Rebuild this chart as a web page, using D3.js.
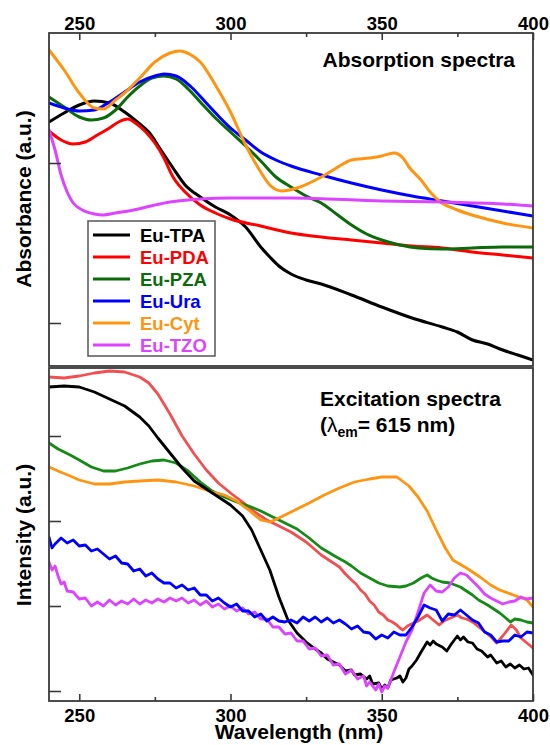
<!DOCTYPE html>
<html><head><meta charset="utf-8">
<title>Absorption and excitation spectra</title>
<script src="https://d3js.org/d3.v7.min.js"></script>
<style>
  body { margin: 0; background: #fff; }
  text { font-family: Arial, "Liberation Sans", Helvetica, sans-serif; font-weight: bold; }
  .curve { fill: none; stroke-linejoin: round; stroke-linecap: round; }
</style>
</head>
<body>
<div id="chart"></div>
<script>
// wavelength ticks (nm)
var majorTicks = [250, 300, 350, 400];
var minorTicks = [275, 325, 375];
var absTicks = [0.42, 2.02];            // unlabelled y ticks, absorption (a.u.)
var excTicks = [0.10, 0.95, 1.80, 2.65]; // unlabelled y ticks, excitation (a.u.)

var names = ["Eu-TPA", "Eu-PDA", "Eu-PZA", "Eu-Ura", "Eu-Cyt", "Eu-TZO"];
var absColors = ["#000000", "#ff0000", "#0b6b0b", "#0000ff", "#ff9410", "#dd44ff"];
var excColors = ["#000000", "#f25050", "#168a16", "#0000ff", "#ff9410", "#dd44ff"];

// absorption spectra [wavelength nm, absorbance a.u.]
var absTPA = [[240,2.43],[245,2.52],[250,2.60],[255,2.64],[260,2.62],[265,2.53],[270,2.41],[273,2.33],[277,2.15],[281,1.97],[285,1.80],[290,1.68],[295,1.58],[300,1.50],[305,1.38],[310,1.18],[313,1.08],[316,0.99],[320,0.91],[325,0.85],[330,0.81],[340,0.70],[350,0.58],[360,0.47],[370,0.38],[375,0.33],[380,0.25],[385,0.21],[390,0.15],[395,0.10],[400,0.05]];
var absPDA = [[240,2.34],[244,2.25],[248,2.21],[252,2.23],[256,2.30],[260,2.37],[263,2.43],[266,2.46],[269,2.41],[272,2.33],[275,2.22],[278,2.07],[281,1.88],[285,1.73],[290,1.60],[295,1.52],[300,1.46],[310,1.39],[320,1.32],[330,1.28],[340,1.25],[350,1.22],[360,1.19],[370,1.17],[380,1.13],[390,1.10],[400,1.07]];
var absPZA = [[240,2.68],[245,2.58],[250,2.48],[254,2.45],[258,2.47],[262,2.55],[266,2.68],[270,2.79],[274,2.87],[278,2.89],[282,2.86],[286,2.76],[290,2.63],[295,2.47],[300,2.33],[305,2.19],[310,2.04],[315,1.88],[320,1.78],[325,1.69],[330,1.62],[335,1.51],[340,1.40],[345,1.31],[350,1.25],[356,1.20],[362,1.17],[370,1.16],[380,1.17],[390,1.18],[400,1.18]];
var absUra = [[240,2.62],[245,2.57],[250,2.54],[255,2.55],[260,2.63],[265,2.73],[270,2.83],[275,2.89],[278,2.91],[282,2.89],[287,2.78],[292,2.62],[296,2.49],[300,2.37],[305,2.25],[310,2.13],[315,2.05],[320,1.99],[330,1.90],[340,1.82],[350,1.75],[360,1.69],[370,1.64],[380,1.59],[390,1.54],[400,1.49]];
var absCyt = [[240,3.15],[245,2.95],[250,2.72],[255,2.57],[258,2.56],[262,2.65],[265,2.72],[270,2.87],[275,3.03],[280,3.12],[283,3.14],[287,3.10],[290,3.03],[295,2.80],[300,2.53],[305,2.20],[310,1.93],[313,1.80],[317,1.74],[322,1.77],[330,1.88],[335,1.97],[340,2.05],[346,2.07],[350,2.09],[354,2.12],[357,2.07],[359,1.98],[363,1.85],[366,1.73],[369,1.64],[375,1.55],[381,1.49],[390,1.42],[400,1.37]];
var absTZO = [[240,2.35],[242,2.15],[244,1.90],[246,1.73],[248,1.62],[251,1.55],[255,1.51],[258,1.50],[262,1.52],[268,1.55],[275,1.60],[280,1.63],[290,1.66],[300,1.67],[320,1.67],[350,1.64],[370,1.63],[390,1.61],[400,1.59]];

// excitation spectra (lambda_em = 615 nm) [wavelength nm, intensity a.u.]
var excTPA = [[240,3.14],[245,3.15],[250,3.14],[255,3.09],[260,3.02],[265,2.95],[270,2.84],[273,2.75],[276,2.63],[280,2.48],[284,2.33],[288,2.20],[292,2.12],[296,2.04],[300,1.96],[304,1.85],[307,1.71],[310,1.51],[313,1.31],[316,1.04],[319,0.81],[322,0.68],[325,0.59],[328,0.52],[330,0.48],[332,0.42],[334,0.39],[336,0.36],[338,0.30],[340,0.31],[341,0.26],[343,0.27],[345,0.22],[346,0.25],[347,0.17],[349,0.18],[350,0.12],[351,0.16],[352,0.13],[353,0.21],[355,0.23],[356,0.25],[357,0.19],[358,0.23],[359,0.32],[360,0.35],[361.5,0.41],[363,0.49],[365,0.59],[366,0.56],[367,0.60],[368,0.57],[370,0.54],[371.5,0.50],[373,0.57],[375,0.65],[376,0.61],[377,0.64],[378.5,0.59],[380,0.58],[381.5,0.52],[383,0.50],[385,0.44],[386,0.46],[388,0.38],[389.5,0.40],[391,0.34],[392.5,0.37],[394,0.33],[395.5,0.36],[397,0.32],[398.5,0.33],[400,0.26]];
var excPDA = [[240,3.24],[245,3.23],[250,3.25],[255,3.28],[260,3.30],[265,3.29],[270,3.24],[273,3.18],[276,3.07],[280,2.87],[284,2.65],[288,2.47],[292,2.31],[296,2.18],[300,2.08],[304,1.99],[308,1.89],[312,1.81],[316,1.75],[320,1.69],[325,1.59],[330,1.46],[333,1.40],[336,1.34],[338,1.27],[340,1.21],[341.5,1.17],[343,1.11],[344.5,1.07],[346,1.00],[347.5,0.96],[349,0.89],[350.5,0.86],[352,0.81],[353.5,0.79],[355,0.76],[356,0.73],[357,0.71],[358.5,0.75],[360.5,0.78],[362,0.80],[363,0.82],[365,0.86],[367,0.81],[369,0.76],[370.5,0.80],[372,0.82],[375,0.86],[376.5,0.83],[378,0.82],[380,0.79],[382.5,0.73],[385,0.67],[386.5,0.63],[388,0.58],[390,0.65],[392.8,0.76],[394.5,0.71],[396,0.63],[398,0.58],[400,0.53]];
var excPZA = [[240,2.58],[243,2.52],[247,2.46],[250,2.41],[254,2.34],[258,2.30],[262,2.30],[266,2.33],[270,2.37],[274,2.40],[278,2.41],[282,2.38],[286,2.30],[290,2.19],[294,2.10],[298,2.04],[302,1.99],[306,1.95],[310,1.90],[314,1.84],[318,1.78],[322,1.72],[326,1.63],[330,1.53],[335,1.44],[338,1.39],[340,1.35],[343,1.28],[346,1.23],[349,1.18],[352,1.15],[356,1.14],[358,1.15],[360.5,1.18],[363,1.23],[365,1.26],[366.5,1.23],[368,1.21],[370,1.19],[372.5,1.18],[376,1.14],[378,1.10],[380,1.06],[382,1.01],[385,0.96],[387,0.92],[389,0.88],[391,0.83],[392.5,0.79],[394,0.82],[396,0.81],[398,0.79],[400,0.78]];
var excUra = [[240,1.64],[241,1.53],[242,1.57],[244,1.63],[246,1.58],[248,1.61],[250,1.55],[252,1.56],[254,1.50],[256,1.52],[258,1.47],[260,1.42],[262,1.45],[264,1.38],[266,1.37],[268,1.30],[270,1.32],[272,1.25],[274,1.28],[276,1.22],[278,1.18],[280,1.18],[282,1.13],[284,1.16],[286,1.11],[288,1.13],[290,1.06],[292,1.06],[294,1.00],[296,1.03],[298,0.98],[300,0.94],[302,0.97],[304,0.90],[306,0.90],[308,0.84],[310,0.87],[312,0.80],[314,0.84],[316,0.80],[318,0.79],[320,0.81],[322,0.78],[324,0.84],[326,0.80],[328,0.84],[330,0.79],[332,0.83],[334,0.78],[336,0.81],[338,0.77],[340,0.72],[342,0.75],[344,0.69],[346,0.68],[348,0.62],[350,0.66],[352,0.63],[354,0.69],[356,0.66],[358,0.66],[360,0.74],[362,0.84],[364,0.96],[366,0.93],[368,0.91],[370,0.80],[372,0.87],[374,0.86],[376,0.91],[378,0.86],[380,0.81],[382,0.78],[384,0.69],[386,0.66],[388,0.59],[390,0.60],[392,0.60],[394,0.66],[396,0.64],[398,0.69],[400,0.68]];
var excCyt = [[240,2.34],[243,2.30],[247,2.25],[250,2.21],[255,2.17],[260,2.17],[265,2.19],[270,2.20],[276,2.21],[282,2.19],[288,2.15],[294,2.09],[298,2.06],[302,2.00],[306,1.91],[310,1.81],[313,1.79],[316,1.83],[320,1.89],[326,1.98],[331,2.06],[336,2.13],[341,2.19],[346,2.22],[350,2.24],[355,2.24],[359,2.15],[362,2.04],[365,1.90],[368,1.71],[371,1.53],[373.5,1.41],[378,1.33],[382.5,1.24],[386,1.16],[389,1.11],[393.5,1.06],[398,1.01],[400,0.94]];
var excTZO = [[240,1.39],[241,1.31],[242,1.35],[243,1.25],[244,1.17],[245,1.19],[246,1.10],[248,1.09],[250,1.02],[252,1.03],[254,0.95],[256,0.99],[258,0.95],[260,1.01],[262,0.96],[264,1.00],[266,0.97],[268,1.02],[270,0.97],[272,1.01],[274,0.98],[276,1.02],[278,0.99],[280,1.03],[282,1.00],[284,1.03],[286,0.98],[288,1.01],[290,0.96],[292,1.00],[294,0.94],[296,0.97],[298,0.92],[300,0.95],[302,0.90],[304,0.93],[306,0.87],[308,0.89],[310,0.82],[312,0.82],[314,0.74],[316,0.74],[318,0.67],[320,0.68],[322,0.60],[324,0.60],[326,0.52],[328,0.53],[330,0.45],[332,0.46],[334,0.36],[336,0.37],[338,0.27],[340,0.31],[342,0.22],[344,0.25],[345,0.15],[346,0.19],[348,0.11],[349,0.17],[350,0.09],[351,0.15],[352,0.13],[354,0.29],[356,0.44],[358,0.59],[360,0.71],[362,0.89],[364,1.08],[366,1.16],[368,1.10],[370,1.09],[372,1.14],[374,1.23],[376,1.28],[378,1.26],[380,1.20],[382,1.14],[384,1.07],[386,1.03],[388,1.00],[390,0.97],[392,0.99],[394,1.00],[396,1.04],[398,1.02],[400,1.03]];

var absSeries = [absTPA, absPDA, absPZA, absUra, absCyt, absTZO];
var excSeries = [excTPA, excPDA, excPZA, excUra, excCyt, excTZO];

var W = 550, H = 745;
var left = 49, right = 533;
var absTop = 33, absBottom = 366, excTop = 368, excBottom = 701;

var svg = d3.select("#chart").append("svg")
  .attr("width", W).attr("height", H);

var x = d3.scaleLinear().domain([240, 400]).range([left, right]);
var yAbs = d3.scaleLinear().domain([0, 3.32]).range([365, absTop]);
var yExc = d3.scaleLinear().domain([0, 3.33]).range([excBottom, excTop]);

var defs = svg.append("defs");
defs.append("clipPath").attr("id", "clipAbs").append("rect")
  .attr("x", left).attr("y", absTop).attr("width", right - left).attr("height", absBottom - absTop);
defs.append("clipPath").attr("id", "clipExc").append("rect")
  .attr("x", left).attr("y", excTop).attr("width", right - left).attr("height", excBottom - excTop);

// curves
var lineAbs = d3.line().x(d => x(d[0])).y(d => yAbs(d[1])).curve(d3.curveMonotoneX);
var lineExc = d3.line().x(d => x(d[0])).y(d => yExc(d[1])).curve(d3.curveLinear);

var gAbs = svg.append("g").attr("clip-path", "url(#clipAbs)");
absSeries.forEach(function(s, i) {
  gAbs.append("path").attr("class", "curve")
    .attr("d", lineAbs(s))
    .attr("stroke", absColors[i]).attr("stroke-width", 3);
});
var gExc = svg.append("g").attr("clip-path", "url(#clipExc)");
// draw order roughly as in the figure
[1, 2, 4, 0, 5, 3].forEach(function(i) {
  gExc.append("path").attr("class", "curve")
    .attr("d", lineExc(excSeries[i]))
    .attr("stroke", excColors[i]).attr("stroke-width", 2.8);
});

// frames
var frameColor = "#3a3a3a";
svg.append("rect").attr("x", left).attr("y", absTop)
  .attr("width", right - left).attr("height", absBottom - absTop)
  .attr("fill", "none").attr("stroke", frameColor).attr("stroke-width", 1.8);
svg.append("rect").attr("x", left).attr("y", excTop)
  .attr("width", right - left).attr("height", excBottom - excTop)
  .attr("fill", "none").attr("stroke", frameColor).attr("stroke-width", 1.8);

// top wavelength axis
var axTop = svg.append("g").attr("transform", "translate(0," + absTop + ")")
  .call(d3.axisTop(x).tickValues(majorTicks).tickSize(-7).tickPadding(3).tickFormat(d3.format("d")));
var axTopMinor = svg.append("g").attr("transform", "translate(0," + absTop + ")")
  .call(d3.axisTop(x).tickValues(minorTicks).tickSize(-4).tickFormat(""));
// bottom wavelength axis
var axBot = svg.append("g").attr("transform", "translate(0," + excBottom + ")")
  .call(d3.axisBottom(x).tickValues(majorTicks).tickSize(-7).tickPadding(8).tickFormat(d3.format("d")));
var axBotMinor = svg.append("g").attr("transform", "translate(0," + excBottom + ")")
  .call(d3.axisBottom(x).tickValues(minorTicks).tickSize(-4).tickFormat(""));
// left ticks (no labels)
var axAbsY = svg.append("g").attr("transform", "translate(" + left + ",0)")
  .call(d3.axisLeft(yAbs).tickValues(absTicks).tickSize(-12).tickFormat(""));
var axExcY = svg.append("g").attr("transform", "translate(" + left + ",0)")
  .call(d3.axisLeft(yExc).tickValues(excTicks).tickSize(-12).tickFormat(""));

[axTop, axTopMinor, axBot, axBotMinor, axAbsY, axExcY].forEach(function(g) {
  g.select(".domain").remove();
  g.selectAll(".tick line").attr("stroke", frameColor).attr("stroke-width", 1.6);
  g.selectAll(".tick text").attr("font-size", 18.5).attr("fill", "#000")
    .attr("font-family", "Arial, 'Liberation Sans', sans-serif").attr("font-weight", "bold");
});

// axis titles
svg.append("text").attr("x", 299).attr("y", 739).attr("text-anchor", "middle")
  .attr("font-size", 21).text("Wavelength (nm)");
svg.append("text").attr("transform", "translate(31," + 199 + ") rotate(-90)")
  .attr("text-anchor", "middle").attr("font-size", 21).text("Absorbance (a.u.)");
svg.append("text").attr("transform", "translate(31," + 535 + ") rotate(-90)")
  .attr("text-anchor", "middle").attr("font-size", 21).text("Intensity (a.u.)");

// panel labels
svg.append("text").attr("x", 515).attr("y", 67).attr("text-anchor", "end")
  .attr("font-size", 21).text("Absorption spectra");
svg.append("text").attr("x", 320).attr("y", 406)
  .attr("font-size", 21).text("Excitation spectra");
var em = svg.append("text").attr("x", 320).attr("y", 432).attr("font-size", 21);
em.append("tspan").text("(");
em.append("tspan").attr("font-weight", "normal").text("\u03bb");
em.append("tspan").attr("font-size", 14).attr("dy", 5).text("em");
em.append("tspan").attr("dy", -5).text("= 615 nm)");

// legend
var legend = svg.append("g");
legend.append("rect").attr("x", 88).attr("y", 221).attr("width", 127).attr("height", 135)
  .attr("fill", "#fff").attr("stroke", "#555").attr("stroke-width", 1.5);
names.forEach(function(n, i) {
  var yy = 235 + i * 22;
  legend.append("line").attr("x1", 93).attr("x2", 130).attr("y1", yy).attr("y2", yy)
    .attr("stroke", absColors[i]).attr("stroke-width", 3);
  legend.append("text").attr("x", 140).attr("y", yy + 6.5)
    .attr("font-size", 18.5).attr("fill", absColors[i]).text(n);
});
</script>
</body></html>
